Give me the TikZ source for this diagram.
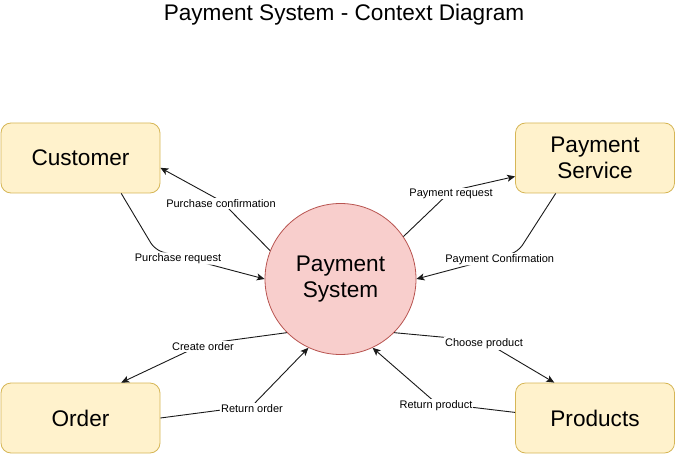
\documentclass[tikz,border=0pt]{standalone}
\usepackage{fontspec}
\setmainfont{Liberation Sans}
\usetikzlibrary{arrows.meta}

\definecolor{entline}{RGB}{214,182,86}
\definecolor{entfill}{RGB}{255,242,204}
\definecolor{procline}{RGB}{184,84,80}
\definecolor{procfill}{RGB}{248,206,204}

\begin{document}
\begin{tikzpicture}[
        x=1pt, y=-1pt,
        font=\fontsize{22.6}{25.5}\selectfont,
        ent/.style={rectangle, rounded corners=10pt,
          draw=entline, fill=entfill, line width=0.8pt,
          minimum width=159pt, minimum height=70pt, align=center},
        proc/.style={circle, draw=procline, fill=procfill, line width=0.8pt,
          minimum size=151pt, inner sep=0pt, align=center},
        flow/.style={draw=black!90, line width=0.9pt,
          -{Stealth[length=8pt,width=7pt,inset=2pt]}},
        lbl/.style={fill=white, inner sep=1pt, yshift=-2.5pt,
          font=\fontsize{11}{13}\selectfont}
      ]
        \useasboundingbox (0,0) rectangle (676,454);
        \node (title) at (344,15) {Payment System - Context Diagram};
        \node[ent] (cust) at (80.5,158) {Customer};
        \node[ent] (psv) at (595,158) {Payment\\Service};
        \node[ent] (ord) at (80.5,418) {Order};
        \node[ent] (prd) at (595,418) {Products};
        \node[proc] (ps) at (340.5,279) {Payment\\System};
        \coordinate (w1) at (221,201);
        \coordinate (w2) at (155,250);
        \coordinate (w3) at (451,191);
        \coordinate (w4) at (518,252);
        \coordinate (w5) at (203,344);
        \coordinate (w6) at (252,406);
        \coordinate (w7) at (484,341);
        \coordinate (w8) at (436,403);
        \draw[flow] (ps.158) -- (w1) node[lbl] {Purchase confirmation} -- (cust.-7);
        \draw[flow, rounded corners=8pt] (cust.-41) -- (w2) -- node[lbl, pos=0.21] {Purchase request} (ps.180);
        \draw[flow] (ps.34) -- (w3) node[lbl] {Payment request} -- (psv.193);
        \draw[flow, rounded corners=8pt] (psv.222) -- (w4) -- node[lbl, pos=0.18] {Payment Confirmation} (ps.0);
        \draw[flow] (ps.225) -- (w5) node[lbl] {Create order} -- (ord.41);
        \draw[flow] (ord.east) -- (w6) node[lbl] {Return order} -- (ps.245);
        \draw[flow] (ps.-45) -- (w7) node[lbl] {Choose product} -- (prd.139);
        \draw[flow] (prd.176) -- (w8) node[lbl] {Return product} -- (ps.-65);
      \end{tikzpicture}
\end{document}
